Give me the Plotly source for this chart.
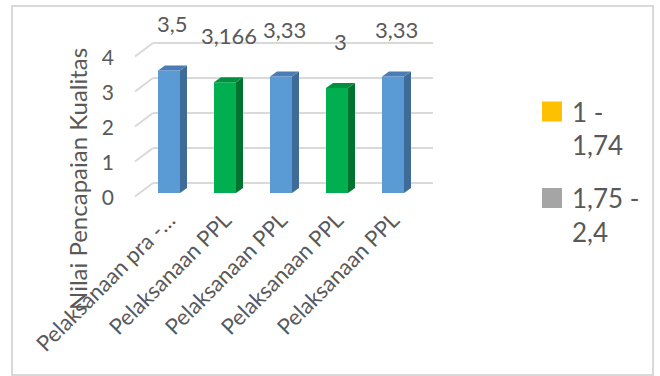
import plotly.graph_objects as go

# ---- data ----
categories = ["Pelaksanaan pra -…", "Pelaksanaan PPL", "Pelaksanaan PPL",
              "Pelaksanaan PPL", "Pelaksanaan PPL"]
values = [3.5, 3.166, 3.33, 3.0, 3.33]
value_labels = ["3,5", "3,166", "3,33", "3", "3,33"]
front_colors = ["#5B9BD5", "#00B050", "#5B9BD5", "#00B050", "#5B9BD5"]
side_colors = ["#3E6B97", "#00732F", "#3E6B97", "#00732F", "#3E6B97"]
top_colors = ["#4A7DB4", "#009140", "#4A7DB4", "#009140", "#4A7DB4"]
legend_names = ["1 -<br>1,74", "1,75 -<br>2,4"]
legend_colors = ["#FFC000", "#A5A5A5"]
y_ticks = [0, 1, 2, 3, 4]
y_tick_labels = ["0", "1", "2", "3", "4"]
y_title = "Nilai Pencapaian Kualitas"

# ---- layout geometry (pixels) ----
W, H = 660, 376
L, R, T, B = 115, 435, 25, 200
PX_X = 56.0      # pixels per category
PX_Y = 35.0      # pixels per value unit
X0 = -(169 - L) / PX_X
X1 = X0 + (R - L) / PX_X
Y0 = -(B - 193) / PX_Y
Y1 = Y0 + (B - T) / PX_Y

BAR_W = 22 / PX_X          # front face width
DEPTH_X = 7 / PX_X         # bar depth, horizontal
DEPTH_Y = 5 / PX_Y         # bar depth, vertical
WALL_DY = 10 / PX_Y        # back wall lift
FLOOR_DY = -0.1            # front floor edge drop
WALL_LEFT = (153 - 169) / PX_X
FLOOR_LEFT = (135 - 169) / PX_X
WALL_RIGHT = (433 - 169) / PX_X

TEXT = "#595959"
FONT = "Lato"
GRID = "#D9D9D9"


def px_to_paper_x(px):
    return (px - L) / (R - L)


def px_to_paper_y(py):
    return (B - py) / (B - T)


xs = list(range(len(values)))
fig = go.Figure()

# front faces
fig.add_trace(go.Bar(
    x=xs, y=values, width=BAR_W,
    marker=dict(color=front_colors, line=dict(width=0)),
    showlegend=False, hoverinfo="skip",
))

# side and top faces of each bar
for i, v in enumerate(values):
    xr = i + BAR_W / 2
    xl = i - BAR_W / 2
    fig.add_trace(go.Scatter(
        x=[xr, xr + DEPTH_X, xr + DEPTH_X, xr, xr],
        y=[0, DEPTH_Y, v + DEPTH_Y, v, 0],
        fill="toself", fillcolor=side_colors[i], mode="lines",
        line=dict(width=0, color=side_colors[i]),
        showlegend=False, hoverinfo="skip",
    ))
    fig.add_trace(go.Scatter(
        x=[xl, xl + DEPTH_X, xr + DEPTH_X, xr, xl],
        y=[v, v + DEPTH_Y, v + DEPTH_Y, v, v],
        fill="toself", fillcolor=top_colors[i], mode="lines",
        line=dict(width=0, color=top_colors[i]),
        showlegend=False, hoverinfo="skip",
    ))

# empty legend-only series
for k, (name, col) in enumerate(zip(legend_names, legend_colors)):
    fig.add_trace(go.Scatter(
        x=[None], y=[None], mode="markers", name=name, legendgroup=f"g{k}",
        marker=dict(symbol="square", size=16, color=col,
                    line=dict(color=col, width=4)),
    ))

shapes = []
# back wall and floor gridlines
for v in y_ticks:
    shapes.append(dict(type="line", xref="x", yref="y", layer="below",
                       x0=FLOOR_LEFT, y0=v + FLOOR_DY,
                       x1=WALL_LEFT, y1=v + WALL_DY,
                       line=dict(color=GRID, width=2)))
    shapes.append(dict(type="line", xref="x", yref="y", layer="below",
                       x0=WALL_LEFT, y0=v + WALL_DY,
                       x1=WALL_RIGHT, y1=v + WALL_DY,
                       line=dict(color=GRID, width=2)))
# chart border
shapes.append(dict(type="rect", xref="paper", yref="paper", layer="below",
                   x0=px_to_paper_x(12), x1=px_to_paper_x(653),
                   y0=px_to_paper_y(375), y1=px_to_paper_y(6),
                   line=dict(color=GRID, width=2)))

annotations = []
for i, (v, lab) in enumerate(zip(values, value_labels)):
    annotations.append(dict(
        x=i + 0.07, y=v, xref="x", yref="y", text=lab, showarrow=False,
        yshift=47, font=dict(family=FONT, size=22, color=TEXT),
    ))
annotations.append(dict(
    x=px_to_paper_x(77), y=px_to_paper_y(179), xref="paper", yref="paper",
    xanchor="center", yanchor="middle",
    text=y_title, textangle=-90, showarrow=False,
    font=dict(family=FONT, size=24, color=TEXT),
))

fig.update_layout(
    width=W, height=H,
    margin=dict(l=L, r=W - R, t=T, b=H - B),
    paper_bgcolor="white", plot_bgcolor="white",
    font=dict(family=FONT, color=TEXT),
    xaxis=dict(range=[X0, X1], tickvals=xs, ticktext=categories,
               tickangle=-45, showgrid=False, zeroline=False,
               showline=False, ticks="", ticklabelstandoff=2,
               tickfont=dict(family=FONT, size=22, color=TEXT)),
    yaxis=dict(range=[Y0, Y1], tickvals=[t + FLOOR_DY - 0.04 for t in y_ticks],
               ticktext=y_tick_labels, showgrid=False, zeroline=False,
               showline=False, ticks="",
               tickfont=dict(family=FONT, size=21, color=TEXT)),
    shapes=shapes,
    annotations=annotations,
    legend=dict(x=px_to_paper_x(532), y=px_to_paper_y(88),
                xanchor="left", yanchor="top", valign="top",
                traceorder="grouped", tracegroupgap=16,
                font=dict(family=FONT, size=26, color=TEXT),
                bgcolor="rgba(0,0,0,0)", itemwidth=30),
    showlegend=True,
)

fig.write_html("out.html")
